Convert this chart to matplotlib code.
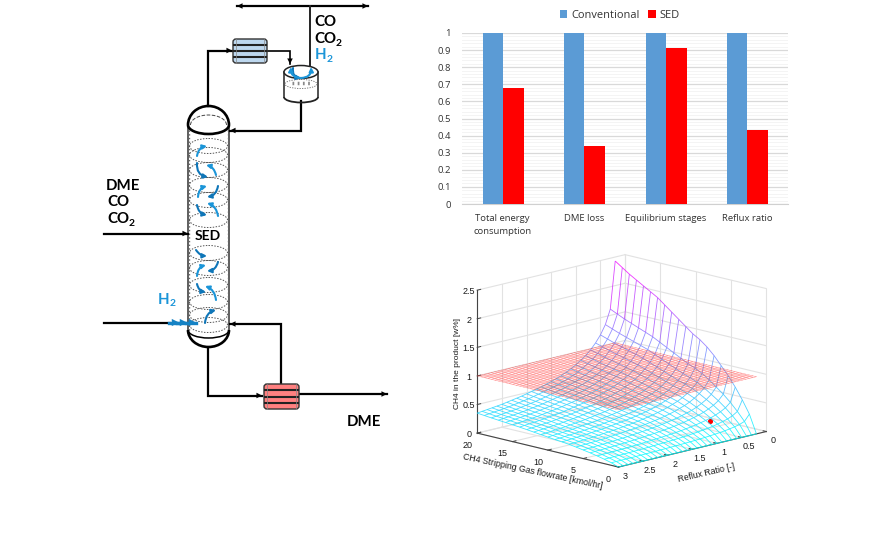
import matplotlib
matplotlib.use('Agg')
import matplotlib.pyplot as plt
import numpy as np
from matplotlib.patches import Rectangle, Ellipse, Arc, FancyArrowPatch, FancyBboxPatch
from mpl_toolkits.mplot3d import proj3d
from mpl_toolkits.mplot3d.art3d import Line3DCollection

# bar chart values
categories = ['Total energy\nconsumption', 'DME loss', 'Equilibrium stages', 'Reflux ratio']
conventional = [1, 1, 1, 1]
sed = [0.68, 0.34, 0.91, 0.435]
bar_ticks = [0, 0.1, 0.2, 0.3, 0.4, 0.5, 0.6, 0.7, 0.8, 0.9, 1]
bar_tick_labels = ['0', '0.1', '0.2', '0.3', '0.4', '0.5', '0.6', '0.7', '0.8', '0.9', '1']

# surface values
reflux = [0.2, 0.3, 0.4, 0.5, 0.6, 0.7, 0.8, 0.9, 1.0, 1.1, 1.2, 1.3, 1.4, 1.5, 1.6,
          1.7, 1.8, 1.9, 2.0, 2.1, 2.2, 2.3, 2.4, 2.5, 2.6, 2.7, 2.8, 2.9, 3.0]
ch4_at_flow20 = [2.43, 1.61, 1.36, 1.2, 1.08, 0.98, 0.9, 0.84, 0.78, 0.73, 0.69, 0.65, 0.62, 0.59, 0.565,
                 0.54, 0.52, 0.5, 0.48, 0.46, 0.445, 0.43, 0.415, 0.4, 0.39, 0.38, 0.37, 0.36, 0.35]
flow = [0, 1, 2, 3, 4, 5, 6, 7, 8, 9, 10, 11, 12, 13, 14, 15, 16, 17, 18, 19, 20]
flow_share = [0, 0.13, 0.22, 0.3, 0.37, 0.43, 0.49, 0.54, 0.58, 0.61, 0.65,
              0.69, 0.73, 0.77, 0.81, 0.84, 0.87, 0.9, 0.93, 0.965, 1]
plane_level = 1.0
point_flow, point_reflux, point_ch4 = 3.8, 0.6, 0.2
flow_ticks = [0, 5, 10, 15, 20]
reflux_ticks = [0, 0.5, 1, 1.5, 2, 2.5, 3]
reflux_tick_labels = ['0', '0.5', '1', '1.5', '2', '2.5', '3']
ch4_ticks = [0, 0.5, 1, 1.5, 2, 2.5]
ch4_tick_labels = ['0', '0.5', '1', '1.5', '2', '2.5']

BLUE = '#1b95d8'

fig = plt.figure(figsize=(8.87, 5.51), dpi=100)


def px_axes(left, top, right, bottom, **kw):
    return fig.add_axes([left / 887, (551 - bottom) / 551, (right - left) / 887, (bottom - top) / 551], **kw)


# flowsheet, drawn in pixel coordinates
dg = px_axes(0, 0, 887, 551)
dg.set_xlim(0, 887)
dg.set_ylim(551, 0)
dg.axis('off')


def pipe(points, arrow=True, color='black', lw=1.6, head=10):
    xs = [p[0] for p in points]
    ys = [p[1] for p in points]
    dg.plot(xs, ys, color=color, lw=lw, solid_joinstyle='miter', zorder=3)
    if arrow:
        dg.add_patch(FancyArrowPatch(points[-2], points[-1], arrowstyle='-|>', mutation_scale=head,
                                     color=color, lw=0, shrinkA=0, shrinkB=0, zorder=4))


def exchanger(x0, y0, x1, y1, fill):
    dg.add_patch(FancyBboxPatch((x0, y0), x1 - x0, y1 - y0, boxstyle='round,pad=0,rounding_size=3',
                                fc=fill, ec='#333333', lw=1, zorder=3))
    for k in range(1, 4):
        y = y0 + (y1 - y0) * k / 4
        dg.plot([x0 + 1, x1 - 1], [y, y], color='#222222', lw=1.5, zorder=4)
    dg.plot([x0 + 3, x0 + 3], [y0, y1], color='#888888', lw=0.5, zorder=4)
    dg.plot([x1 - 3, x1 - 3], [y0, y1], color='#888888', lw=0.5, zorder=4)


def swirl(start, end, rad, color=BLUE):
    dg.add_patch(FancyArrowPatch(start, end, connectionstyle='arc3,rad=%f' % rad, arrowstyle='-|>',
                                 mutation_scale=6, color=color, lw=1.5, shrinkA=0, shrinkB=0, zorder=5))


def stream_label(x, y, name, sub=None, color='black', size=10.8):
    t = dg.text(x, y, name, color=color, fontfamily='Lato', fontweight='bold', fontsize=size, va='center', zorder=6)
    if sub:
        fig.canvas.draw()
        box = t.get_window_extent()
        dg.text(box.x1 / fig.dpi * 100 - 0.5, y + 4, sub, color=color, fontfamily='Lato', fontweight='bold',
                fontsize=size * 0.68, va='center', zorder=6)


# column
col_l, col_r, col_c = 188, 229, 208.5
dg.plot([col_l, col_l], [125, 333], color='#333333', lw=1.1, zorder=3)
dg.plot([col_r, col_r], [125, 333], color='#333333', lw=1.1, zorder=3)
dg.plot([col_l + 1.2, col_l + 1.2], [130, 330], color='#666666', lw=1, ls=':', zorder=3)
dg.plot([col_r - 1.2, col_r - 1.2], [130, 330], color='#666666', lw=1, ls=':', zorder=3)
dg.add_patch(Arc((col_c, 125), 41, 38, theta1=180, theta2=360, color='black', lw=1.9, zorder=4))
dg.add_patch(Arc((col_c, 125), 41, 18, theta1=0, theta2=180, color='black', lw=1.9, zorder=4))
dg.add_patch(Arc((col_c, 125), 36, 20, theta1=180, theta2=360, color='#444444', lw=0.7, ls='--', zorder=4))
dg.add_patch(Arc((col_c, 330), 41, 34, theta1=0, theta2=180, color='black', lw=1.9, zorder=4))
dg.add_patch(Arc((col_c, 330), 41, 16, theta1=0, theta2=180, color='black', lw=1.1, zorder=4))

for y in [146, 155, 170, 185, 200, 220, 253, 268, 285, 302, 315, 325]:
    dg.add_patch(Ellipse((col_c, y), 38, 15, fc='none', ec='#555555', lw=0.7, ls=(0, (1.5, 1.5)), zorder=3))

swirl((197, 156), (207, 146), -0.35)
swirl((197, 163), (208, 177), 0.45, '#0f76b8')
swirl((216, 175), (206, 165), 0.3)
swirl((198, 197), (207, 186), -0.35)
swirl((218, 186), (207, 197), -0.35, '#0f76b8')
swirl((197, 205), (207, 215), 0.35, '#0f76b8')
swirl((218, 216), (207, 203), 0.3)
swirl((196, 250), (207, 256), 0.25, '#0f76b8')
swirl((218, 262), (207, 271), -0.35, '#0f76b8')
swirl((197, 276), (206, 265), -0.35)
swirl((197, 284), (206, 292), 0.35, '#0f76b8')
swirl((216, 300), (205, 286), 0.3)
swirl((205, 323), (216, 310), -0.35, '#0f76b8')

# streams
pipe([(237, 6), (368, 6)])
dg.add_patch(FancyArrowPatch((247, 6), (237, 6), arrowstyle='-|>', mutation_scale=10, color='black', lw=0,
                             shrinkA=0, shrinkB=0, zorder=4))
pipe([(310, 6), (310, 65)], arrow=False, color='#222222', lw=1.4)
pipe([(208, 106), (208, 50.5), (232, 50.5)])
pipe([(267, 50.5), (290, 50.5), (290, 64)], lw=1.2)
pipe([(301, 101), (301, 130.5), (230, 130.5)])
pipe([(104, 233.5), (188, 233.5)])
pipe([(104, 322.5), (170, 322.5)], arrow=False)
pipe([(208, 349), (208, 395.5), (262, 395.5)])
pipe([(281, 384), (281, 324), (230, 324)])
pipe([(300, 394), (387, 394)])
for x in [169, 177, 186]:
    pipe([(x, 322.5), (x + 10, 322.5)], color='#1582c4', lw=2.4, head=13)

exchanger(233, 39, 267, 63, '#bdd7ee')
exchanger(264, 384, 299, 409, '#ff8080')

# reflux drum
dg.add_patch(Rectangle((284, 72), 34, 25, fc='white', ec='none', zorder=2))
dg.plot([284, 284], [72, 97], color='#222222', lw=1.1, zorder=3)
dg.plot([318, 318], [72, 97], color='#222222', lw=1.1, zorder=3)
dg.add_patch(Ellipse((301, 72), 34, 13, fc='white', ec='#222222', lw=1.1, zorder=3))
dg.add_patch(Arc((301, 97), 34, 11, theta1=0, theta2=180, color='#222222', lw=1.3, zorder=3))
dg.add_patch(Ellipse((301, 84), 32, 9, fc='none', ec='#666666', lw=0.6, ls=(0, (1.5, 1.5)), zorder=3))
dg.plot([292, 310], [83, 83], color='#888888', lw=2.5, ls=(0, (0.5, 1)), zorder=3)
swirl((293, 68), (301, 78), 0.5, '#0f76b8')
swirl((301, 78), (311, 67), 0.5)
swirl((301, 78), (291, 67), -0.5)

# stream labels
stream_label(314, 21.5, 'CO')
stream_label(314, 39, 'CO', '2')
stream_label(315, 55, 'H', '2', color=BLUE)
stream_label(106, 186, 'DME')
stream_label(107, 202, 'CO')
stream_label(107, 219, 'CO', '2')
stream_label(195, 235.5, 'SED', size=10)
stream_label(158, 300, 'H', '2', color=BLUE)
stream_label(347, 422, 'DME')

# bar chart
ax = px_axes(462, 33, 788, 204)
xpos = np.arange(len(categories))
bar_w = 0.245
ax.bar(xpos - bar_w / 2, conventional, bar_w, color='#5b9bd5', label='Conventional', zorder=3)
ax.bar(xpos + bar_w / 2 + 0.005, sed, bar_w + 0.01, color='#ff0000', label='SED', zorder=3)
ax.set_xlim(-0.5, 3.5)
ax.set_ylim(0, 1)
ax.set_yticks(bar_ticks)
ax.set_yticklabels(bar_tick_labels)
ax.set_yticks(np.arange(0, 1.001, 0.02), minor=True)
ax.set_xticks(xpos)
ax.set_xticklabels(categories, linespacing=1.6)
ax.tick_params(axis='both', which='both', length=0, labelsize=6.8, labelcolor='#333333')
ax.tick_params(axis='x', pad=7)
ax.tick_params(axis='y', pad=8)
for label in ax.get_xticklabels() + ax.get_yticklabels():
    label.set_fontfamily('Open Sans')
ax.grid(axis='y', which='major', color='#d9d9d9', lw=0.9, zorder=0)
ax.grid(axis='y', which='minor', color='#f2f2f2', lw=0.6, zorder=0)
ax.set_axisbelow(True)
for side in ['top', 'right', 'left']:
    ax.spines[side].set_visible(False)
ax.spines['bottom'].set_color('#d0d0d0')
ax.patch.set_alpha(0)
ax.legend(ncol=2, loc='lower center', bbox_to_anchor=(0.484, 1.07), frameon=False, handlelength=0.7, handleheight=0.7,
          handletextpad=0.35, columnspacing=0.8, borderaxespad=0, borderpad=0,
          prop={'family': 'Open Sans', 'size': 7.9}, labelcolor='#333333')

# 3D mesh
ax3 = fig.add_axes([460 / 887, (551 - 522.6) / 551, 315 / 887, 315 / 551], projection='3d')
ax3.set_proj_type('ortho')
ax3.view_init(elev=13.9, azim=135)
ax3.set_box_aspect((594, 622, 438))
ax3.set_xlim(0, 20)
ax3.set_ylim(0, 3)
ax3.set_zlim(0, 2.5)
ax3.set_axis_off()
ax3.patch.set_alpha(0)


def text3(x, y, z, s, **kw):
    # place plain 2D text at a projected 3D position
    u, v, _ = proj3d.proj_transform(x, y, z, ax3.get_proj())
    ax3.text2D(u, v, s, transform=ax3.transData, family='Liberation Sans', color='#1a1a1a',
               ha='center', va='center', **kw)


wall = '#e2e2e2'
dark = '#444444'
for f in flow_ticks:
    ax3.plot([f, f], [0, 3], [0, 0], color=wall, lw=0.8)
    ax3.plot([f, f], [0, 0], [0, 2.5], color=wall, lw=0.8)
for r in reflux_ticks:
    ax3.plot([0, 20], [r, r], [0, 0], color=wall, lw=0.8)
    ax3.plot([20, 20], [r, r], [0, 2.5], color=wall, lw=0.8)
for z in ch4_ticks:
    ax3.plot([20, 20], [0, 3], [z, z], color=wall, lw=0.8)
    ax3.plot([0, 20], [0, 0], [z, z], color=wall, lw=0.8)
ax3.plot([20, 20], [3, 3], [0, 2.5], color=dark, lw=0.8)
ax3.plot([0, 20], [3, 3], [0, 0], color=dark, lw=0.8)
ax3.plot([0, 0], [0, 3], [0, 0], color=dark, lw=0.8)

for z, t in zip(ch4_ticks, ch4_tick_labels):
    ax3.plot([20, 20], [3, 2.93], [z, z], color=dark, lw=0.7)
    text3(20, 3.17, z + 0.01, t, fontsize=6.5)
for f in flow_ticks:
    ax3.plot([f, f], [3, 2.93], [0, 0], color=dark, lw=0.7)
    text3(f, 3.2, -0.17, str(f), fontsize=6.5)
for r, t in zip(reflux_ticks, reflux_tick_labels):
    ax3.plot([0, 0.45], [r, r], [0, 0], color=dark, lw=0.7)
    text3(-1.0, r, -0.13, t, fontsize=6.5)

text3(20, 3.4, 1.3, 'CH4 in the product [w%]', rotation=90, fontsize=6.0)
text3(10, 3.3, -0.32, 'CH4 Stripping Gas flowrate [kmol/hr]', rotation=-12, fontsize=6.3)
text3(-2, 1.5, -0.35, 'Reflux Ratio [-]', rotation=13, fontsize=6.3)

ch4 = np.outer(ch4_at_flow20, flow_share)
F, R = np.meshgrid(flow, reflux)


def mesh_lines(X, Y, Z):
    segs = []
    heights = []
    rows, cols = Z.shape
    for i in range(rows):
        for j in range(cols):
            if j + 1 < cols:
                segs.append([(X[i, j], Y[i, j], Z[i, j]), (X[i, j + 1], Y[i, j + 1], Z[i, j + 1])])
                heights.append((Z[i, j] + Z[i, j + 1]) / 2)
            if i + 1 < rows:
                segs.append([(X[i, j], Y[i, j], Z[i, j]), (X[i + 1, j], Y[i + 1, j], Z[i + 1, j])])
                heights.append((Z[i, j] + Z[i + 1, j]) / 2)
    return segs, np.array(heights)


segs, heights = mesh_lines(F, R, ch4)
ax3.add_collection3d(Line3DCollection(segs, colors=plt.cm.cool(heights / 2.43), linewidths=0.6, alpha=0.85))

plane_flow, plane_reflux = np.meshgrid(np.linspace(0, 20, 41), np.linspace(0.2, 3, 41))
plane_z = np.full_like(plane_flow, plane_level)
segs2, _ = mesh_lines(plane_flow, plane_reflux, plane_z)
ax3.add_collection3d(Line3DCollection(segs2, colors='#ff3030', linewidths=0.35, alpha=0.55))

ax3.scatter([point_flow], [point_reflux], [point_ch4], color='red', s=7, depthshade=False)

fig.savefig('out.png', dpi=100)
